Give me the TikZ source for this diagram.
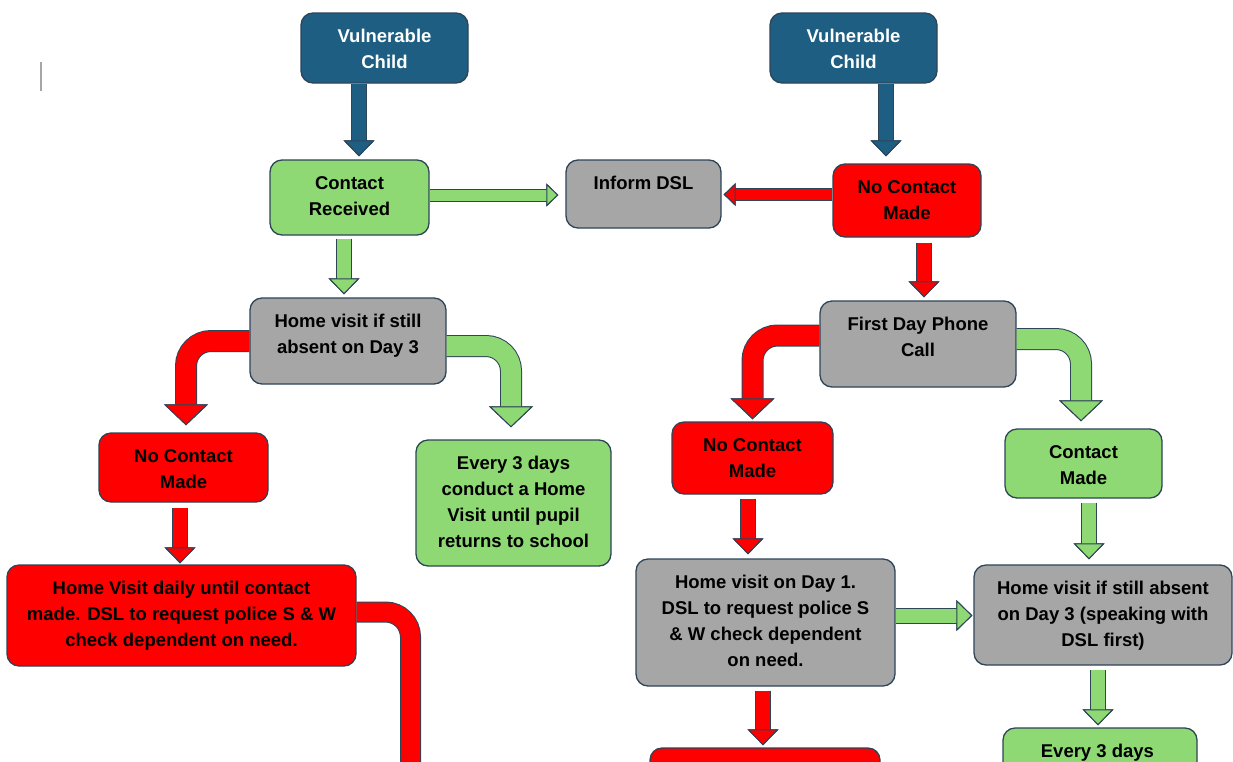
\documentclass[tikz,border=0pt]{standalone}
\usepackage{fontspec}
\setmainfont{Liberation Sans}
\usetikzlibrary{arrows.meta}

\definecolor{navy}{HTML}{1D5E82}
\definecolor{leaf}{HTML}{8ED973}
\definecolor{alarm}{HTML}{FF0000}
\definecolor{stone}{HTML}{A6A6A6}
\definecolor{rim}{HTML}{2E4457}

\tikzset{
	box/.style={draw=rim,line width=1.3pt,rounded corners=12pt,fill=#1},
	txt/.style={font=\fontsize{18.5}{25.7}\selectfont\bfseries,align=center,anchor=north,inner sep=0pt,yshift=-17pt},
	bigarr/.style={draw=#1,line width=20pt,rounded corners=25pt,preaction={draw=rim,line width=22pt},-{Triangle[width=44pt,length=21pt,line width=1pt,color=rim,fill=#1]}},
	midarr/.style={draw=#1,line width=14pt,preaction={draw=rim,line width=16pt},-{Triangle[width=31pt,length=16pt,line width=1pt,color=rim,fill=#1]}},
	smallarr/.style={draw=#1,line width=11pt,preaction={draw=rim,line width=13pt},-{Triangle[width=23pt,length=12pt,line width=1pt,color=rim,fill=#1]}},
	pipe/.style={draw=#1,line width=19pt,rounded corners=25pt,preaction={draw=rim,line width=21pt}}
}

\begin{document}
\begin{tikzpicture}[x=1pt,y=-1pt]
	\useasboundingbox (0,0) rectangle (1233,761);
	\clip (0,0) rectangle (1233,761);
	\fill[white] (0,0) rectangle (1233,761);
	\draw[gray!70,line width=1.5pt] (41,62) -- (41,91);
	% boxes: name/x/y/width/height/fill/text colour/text
	\foreach \id/\cx/\cy/\bw/\bh/\bg/\fg/\words in
	{
		vcl/384.5/48/167/70/navy/white/{Vulnerable\\Child},
		vcr/853.5/48/167/70/navy/white/{Vulnerable\\Child},
		cr/349.5/197.5/159/75/leaf/black/{Contact\\Received},
		dsl/643.5/194/155/68/stone/black/{Inform DSL},
		ncma/907/200.5/148/73/alarm/black/{No Contact\\Made},
		hva/348/341/196/86/stone/black/{Home visit if still\\absent on Day 3},
		fdpc/918/344/196/86/stone/black/{First Day Phone\\Call},
		ncmb/183.5/467.5/169/69/alarm/black/{No Contact\\Made},
		evya/513.5/503/195/126/leaf/black/{Every 3 days\\conduct a Home\\Visit until pupil\\returns to school},
		ncmc/752.5/458/161/72/alarm/black/{No Contact\\Made},
		cm/1083.5/463.5/157/69/leaf/black/{Contact\\Made},
		hvd/181.5/615.5/349/101/alarm/black/{Home Visit daily until contact\\made. DSL to request police S \& W\\check dependent on need.},
		hvo/765.5/622.5/259/127/stone/black/{Home visit on Day 1.\\DSL to request police S\\\& W check dependent\\on need.},
		hvb/1103/615/258/100/stone/black/{Home visit if still absent\\on Day 3 (speaking with\\DSL first)},
		nxr/765/798/230/100/alarm/black/{},
		evyb/1100/791/194/126/leaf/black/{Every 3 days}
	}
	\node[box=\bg,minimum width=\bw,minimum height=\bh,label={[txt,text=\fg]north:\words}] (\id) at (\cx,\cy) {};
	% straight arrows
	\draw[midarr=navy,shorten >=3pt] (vcl.south -| 359,0) -- (cr.north -| 359,0);
	\draw[midarr=navy,shorten >=7pt] (vcr.south -| 886,0) -- (ncma.north -| 886,0);
	\draw[smallarr=leaf,shorten >=7pt] ([yshift=2.5pt]cr.east) -- ([yshift=2.5pt]cr.east -| dsl.west);
	\draw[smallarr=alarm,shorten >=2pt] ([yshift=6pt]ncma.west) -- ([yshift=6pt]ncma.west -| dsl.east);
	\draw[midarr=leaf,shorten <=3pt,shorten >=3pt] (cr.south -| 344,0) -- (hva.north -| 344,0);
	\draw[midarr=alarm,shorten <=5pt,shorten >=3pt] (ncma.south -| 924,0) -- (fdpc.north -| 924,0);
	\draw[midarr=alarm,shorten <=5pt,shorten >=1pt] (ncmb.south -| 180,0) -- (hvd.north -| 180,0);
	\draw[midarr=alarm,shorten <=4pt,shorten >=4pt] (ncmc.south -| 748,0) -- (hvo.north -| 748,0);
	\draw[midarr=leaf,shorten <=4pt,shorten >=5pt] (cm.south -| 1089,0) -- (hvb.north -| 1089,0);
	\draw[midarr=leaf,shorten >=1pt] ([yshift=7pt]hvo.east) -- ([yshift=7pt]hvo.east -| hvb.west);
	\draw[midarr=alarm,shorten <=4pt,shorten >=2pt] (hvo.south -| 763,0) -- (nxr.north -| 763,0);
	\draw[midarr=leaf,shorten <=4pt,shorten >=2pt] (hvb.south -| 1098,0) -- (evyb.north -| 1098,0);
	% bent arrows
	\draw[bigarr=alarm,shorten >=7pt] (hva.west) -| ([xshift=2.5pt]ncmb.north);
	\draw[bigarr=leaf,shorten >=12pt] ([yshift=-5pt]hva.east) -| ([xshift=-2.5pt]evya.north);
	\draw[bigarr=alarm,shorten >=2pt] ([yshift=8.5pt]fdpc.west) -| (ncmc.north);
	\draw[bigarr=leaf,shorten >=7pt] ([yshift=5pt]fdpc.east) -| ([xshift=-2.5pt]cm.north);
	\coordinate (down) at (410.5,800);
	\draw[pipe=alarm] ([yshift=3.5pt]hvd.east) -| (down);
\end{tikzpicture}
\end{document}
